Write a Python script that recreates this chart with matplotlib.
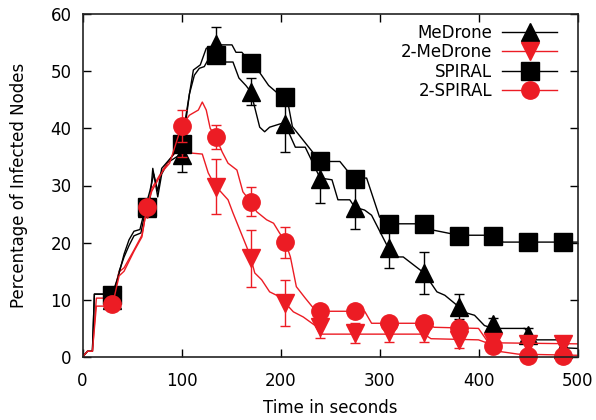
import matplotlib
matplotlib.use("Agg")
import matplotlib.pyplot as plt
from matplotlib.lines import Line2D

plt.rcParams['font.family'] = ['DejaVu Sans']

RED = '#ec1c24'

# ---- dense line data (time, value) ----
medrone_t = [0, 5, 10, 12, 28, 32, 37, 42, 47, 52, 59, 64, 68, 71, 76, 80, 86, 95, 100, 108, 113, 118, 123, 130, 135,
             140, 152, 158, 165, 170, 179, 184, 189, 200, 205, 208, 215, 225, 240, 252, 258, 270, 275, 285, 292,
             310, 319, 324, 345, 358, 366, 380, 388, 396, 406, 415, 447, 452, 459, 480, 487, 500]
medrone_v = [0, 1, 1, 11, 11, 11, 15, 17.5, 19.5, 21.2, 21.7, 26, 27, 33, 28, 32, 34, 35, 35.5, 46, 49.3, 50.5, 50.8, 53, 55,
             51.6, 51.6, 48.8, 47.5, 46.4, 40.2, 39.4, 40.2, 40.8, 41, 39.4, 36.7, 36.7, 31.3, 31, 27.5, 27.5, 26.2, 25.7, 24.8,
             18.7, 17.5, 17.5, 14.7, 11.4, 10.8, 8.8, 7.7, 7.3, 5.5, 5.0, 5.0, 3.5, 3.0, 3.0, 1.6, 1.5]

spiral_t = [0, 5, 10, 12, 30, 36, 42, 47, 52, 58, 64, 68, 72, 76, 80, 90, 100, 108, 112, 119, 125, 135, 151, 155, 161,
            170, 178, 188, 198, 205, 208, 212, 240, 260, 267, 275, 287, 300, 310, 345, 354, 380, 415, 425, 500]
spiral_v = [0, 1, 1, 11, 11, 14, 18, 20.5, 22, 22.3, 26.5, 29, 32, 29, 33, 35, 37.4, 46, 50.2, 51.1, 54, 54.6, 54.6, 53.3, 53.3,
            51.4, 50, 47.5, 46, 45.5, 44, 40.3, 34.2, 34.2, 32.7, 31.3, 31.3, 24.5, 23.3, 23.3, 22.2, 21.3, 21.3, 20.1, 20.1]

medrone2_t = [0, 5, 10, 14, 30, 37, 42, 52, 60, 65, 70, 81, 90, 100, 108, 121, 127, 132, 135, 147, 152, 159, 166, 170,
              174, 181, 189, 196, 205, 213, 223, 235, 240, 275, 310, 345, 352, 400, 408, 500]
medrone2_v = [0, 1, 1, 10.3, 10.3, 14.9, 15.6, 18.7, 21.3, 26, 29.5, 32.7, 35, 37, 35.7, 35.5, 32.2, 30.6, 29.8, 27.5, 25.2,
              22.2, 19.2, 17.3, 14.7, 13.5, 11.4, 10.8, 9.4, 7.9, 7, 5.5, 4.0, 4.0, 4.0, 4.0, 3.2, 3.0, 2.5, 2.3]

spiral2_t = [0, 5, 10, 14, 30, 37, 42, 52, 60, 65, 70, 81, 88, 100, 108, 117, 121, 125, 129, 135, 141, 147, 156, 162,
             170, 176, 186, 193, 199, 205, 210, 216, 225, 233, 240, 285, 292, 350, 355, 400, 410, 420, 440, 500]
spiral2_v = [0, 1, 1, 8.9, 8.9, 14.2, 15, 18.5, 21, 26.2, 29, 32.5, 33.9, 40.4, 42.3, 43.2, 44.6, 43.2, 40, 38.4, 35.9, 33.9,
             32.7, 28.9, 27.1, 25.4, 24, 23.4, 21.7, 20.1, 17.5, 12.3, 10.3, 8.6, 8, 8, 5.9, 5.9, 5.2, 5.0, 2.5, 1.0, 0.5, 0.3]

# ---- marker points with error bars ----
mark_t = [30, 65, 100, 135, 170, 205, 240, 275, 310, 345, 380, 415, 450, 485]
medrone_m = [10, 26, 35.3, 54.8, 46.4, 40.8, 31.2, 26.1, 19.0, 14.7, 8.8, 5.7, 3.9, 1.4]
medrone_e = [0.5, 0.5, 3.0, 3.0, 2.4, 4.9, 4.3, 3.7, 3.5, 3.6, 2.2, 1.2, 1.2, 0.8]
medrone2_m = [10, 25.9, 37, 29.8, 17.3, 9.4, 5.3, 4.2, 4.4, 4.4, 3.0, 2.6, 2.3, 2.3]
medrone2_e = [0.5, 0.5, 2.0, 4.8, 5.0, 4.0, 2.0, 1.8, 1.8, 1.8, 1.5, 1.0, 1.0, 1.0]
spiral_m = [10.8, 26.3, 37.2, 52.8, 51.4, 45.5, 34.3, 31.2, 23.3, 23.3, 21.2, 21.2, 20.2, 20.2]
spiral2_m = [9.3, 26.2, 40.4, 38.4, 27.2, 20.1, 8.0, 8.0, 6.0, 6.0, 5.1, 1.9, 0.2, 0.2]
spiral2_e = [0.5, 0.5, 2.8, 2.1, 2.5, 2.7, 0.8, 0.8, 1.0, 1.0, 1.0, 0.8, 0.5, 0.5]

labels = ['MeDrone', '2-MeDrone', 'SPIRAL', '2-SPIRAL']

fig = plt.figure(figsize=(5.96, 4.2), dpi=100)
ax = fig.add_axes([82.5 / 596, 1 - 357 / 420, 495 / 596, 343 / 420])

LW = 1.0
MS = 12.5
ekw = dict(fmt='none', elinewidth=LW, capsize=3.5, capthick=LW, clip_on=False)

# MeDrone
ax.plot(medrone_t, medrone_v, color='black', lw=LW)
ax.errorbar(mark_t, medrone_m, yerr=medrone_e, ecolor='black', **ekw)
ax.plot(mark_t, medrone_m, linestyle='none', marker='^', ms=MS, color='black', clip_on=False)
# 2-MeDrone
ax.plot(medrone2_t, medrone2_v, color=RED, lw=LW)
ax.errorbar(mark_t, medrone2_m, yerr=medrone2_e, ecolor=RED, **ekw)
ax.plot(mark_t, medrone2_m, linestyle='none', marker='v', ms=MS, color=RED, clip_on=False)
# SPIRAL
ax.plot(spiral_t, spiral_v, color='black', lw=LW)
ax.plot(mark_t, spiral_m, linestyle='none', marker='s', ms=MS, color='black', clip_on=False)
# 2-SPIRAL
ax.plot(spiral2_t, spiral2_v, color=RED, lw=LW)
ax.errorbar(mark_t, spiral2_m, yerr=spiral2_e, ecolor=RED, **ekw)
ax.plot(mark_t, spiral2_m, linestyle='none', marker='o', ms=MS, color=RED, clip_on=False)

ax.set_xlim(0, 500)
ax.set_ylim(0, 60)
ax.set_xticks([0, 100, 200, 300, 400, 500])
ax.set_yticks([0, 10, 20, 30, 40, 50, 60])
ax.tick_params(direction='in', length=6, width=1, top=True, right=True, labelsize=12)
ax.tick_params(axis='x', pad=11)
ax.tick_params(axis='y', pad=8)
for s in ax.spines.values():
    s.set_linewidth(1.2)
    s.set_color('#222222')
ax.set_xlabel('Time in seconds', fontsize=12, labelpad=6)
ax.set_ylabel('Percentage of Infected Nodes', fontsize=12, labelpad=16)

handles = [
    Line2D([], [], color='black', lw=LW, marker='^', ms=MS),
    Line2D([], [], color=RED, lw=LW, marker='v', ms=MS),
    Line2D([], [], color='black', lw=LW, marker='s', ms=MS),
    Line2D([], [], color=RED, lw=LW, marker='o', ms=MS),
]
leg = fig.legend(handles, labels, loc='upper right', bbox_to_anchor=(557 / 596, 1 - 24 / 420),
                 frameon=False, markerfirst=False, fontsize=12, handlelength=3.3,
                 handletextpad=0.6, labelspacing=0.08, borderpad=0, borderaxespad=0, numpoints=1)

fig.savefig('out.png', dpi=100)
